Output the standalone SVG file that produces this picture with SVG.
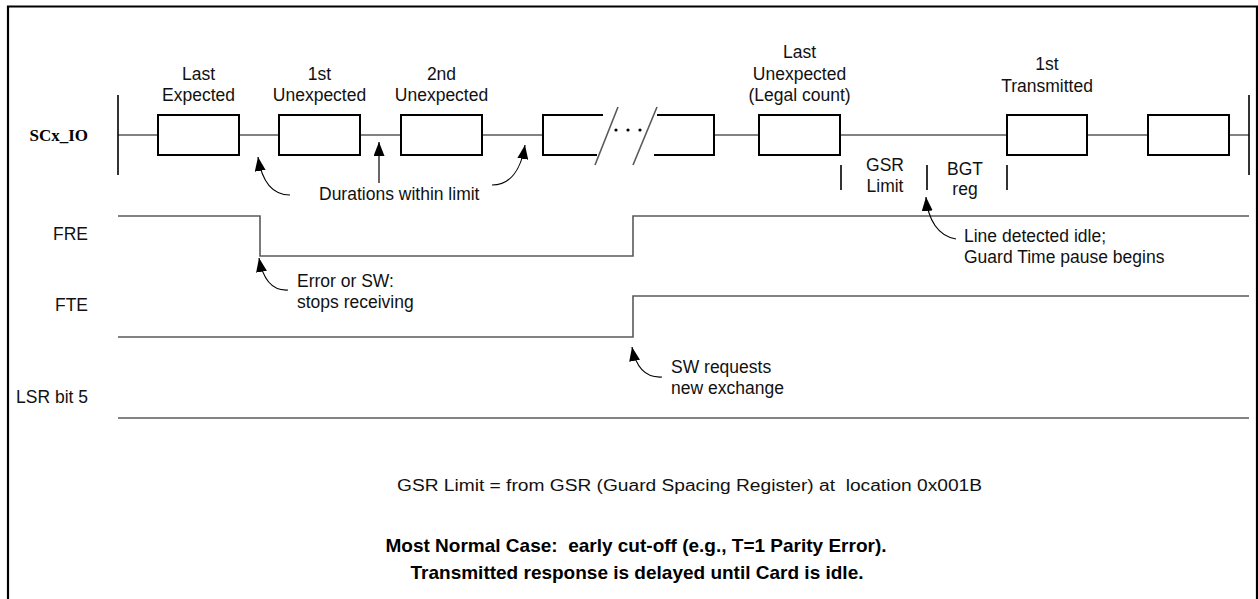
<svg xmlns="http://www.w3.org/2000/svg" width="1258" height="599" viewBox="0 0 1258 599">
<style>
.t{font-family:"Liberation Sans",Arial,sans-serif;font-size:17.5px;fill:#111}
.c{text-anchor:middle}
.r{text-anchor:end}
.b{font-family:"Liberation Sans",Arial,sans-serif;font-weight:bold;font-size:19px;fill:#000;text-anchor:middle;white-space:pre}
.sig{fill:none;stroke:#5a5a5a;stroke-width:1.6}
.box{fill:#fff;stroke:#000;stroke-width:2}
.open{fill:none;stroke:#000;stroke-width:2}
.bar{stroke:#000;stroke-width:1.6}
.arr{fill:none;stroke:#000;stroke-width:1.2}
</style>
<defs>
<marker id="ah" markerUnits="userSpaceOnUse" markerWidth="15" markerHeight="11" refX="14" refY="5.5" orient="auto">
<path d="M0,0 L14,5.5 L0,11 z" fill="#000"/>
</marker>
</defs>
<rect width="1258" height="599" fill="#fff"/>
<path d="M8,599 V6.5 H1257 V599" fill="none" stroke="#000" stroke-width="2.2"/>

<g id="signal-labels">
<text x="88" y="141" style="font-family:'Liberation Serif','Times New Roman',serif;font-weight:bold;font-size:17px;text-anchor:end">SCx_IO</text>
<text class="t r" x="88" y="240">FRE</text>
<text class="t r" x="88" y="311">FTE</text>
<text class="t r" x="88" y="403">LSR bit 5</text>
</g>

<g id="connectors">
<path class="sig" d="M118,135 H158 M239,135 H279 M360,135 H401 M482,135 H543 M714,135 H759 M840,135 H1007 M1087,135 H1148 M1229,135 H1249"/>
<line class="bar" x1="118" y1="95" x2="118" y2="175"/>
<line class="bar" x1="1249" y1="95" x2="1249" y2="175"/>
<path class="bar" d="M841,165 V190 M927,165 V190 M1007,165 V190" fill="none"/>
<path class="sig" d="M118,216 H260 V256 H633 V216 H1249"/>
<path class="sig" d="M118,337 H633 V296 H1249"/>
<path class="sig" d="M118,418 H1249"/>
<path class="arr" marker-end="url(#ah)" d="M290,195 C272,195 262,182 258,157"/>
<path class="arr" marker-end="url(#ah)" d="M379,183 L379,142"/>
<path class="arr" marker-end="url(#ah)" d="M492,185 C510,185 521,170 525,145"/>
<path class="arr" marker-end="url(#ah)" d="M288,290 C272,291 263,280 259,258"/>
<path class="arr" marker-end="url(#ah)" d="M662,377 C646,378 636,368 632,347"/>
<path class="arr" marker-end="url(#ah)" d="M956,239 C938,236 928,220 926,197"/>
</g>

<g id="box-last-expected">
<rect class="box" x="158" y="115" width="81" height="40"/>
<text class="t c" x="198.5" y="80">Last</text>
<text class="t c" x="198.5" y="101">Expected</text>
</g>
<g id="box-1st-unexpected">
<rect class="box" x="279" y="115" width="81" height="40"/>
<text class="t c" x="319.5" y="80">1st</text>
<text class="t c" x="319.5" y="101">Unexpected</text>
</g>
<g id="box-2nd-unexpected">
<rect class="box" x="401" y="115" width="81" height="40"/>
<text class="t c" x="441.5" y="80">2nd</text>
<text class="t c" x="441.5" y="101">Unexpected</text>
</g>
<g id="box-broken">
<path class="open" d="M603,115 H543 V155 H597"/>
<path class="open" d="M657,115 H714 V155 H654"/>
<path class="sig" d="M618,107 L595,165 M657,107 L633,165" stroke="#000"/>
<circle cx="616" cy="130" r="1.6" fill="#000"/>
<circle cx="628" cy="130" r="1.6" fill="#000"/>
<circle cx="640" cy="130" r="1.6" fill="#000"/>
</g>
<g id="box-last-unexpected">
<rect class="box" x="759" y="115" width="81" height="40"/>
<text class="t c" x="799.5" y="58">Last</text>
<text class="t c" x="799.5" y="80">Unexpected</text>
<text class="t c" x="799.5" y="101">(Legal count)</text>
</g>
<g id="box-1st-transmitted">
<rect class="box" x="1007" y="115" width="80" height="40"/>
<text class="t c" x="1047" y="70">1st</text>
<text class="t c" x="1047" y="92">Transmitted</text>
</g>
<g id="box-next">
<rect class="box" x="1148" y="115" width="81" height="40"/>
</g>

<g id="annotations">
<text class="t" x="319" y="200">Durations within limit</text>
<text class="t c" x="885" y="171">GSR</text>
<text class="t c" x="885" y="192">Limit</text>
<text class="t c" x="965" y="175">BGT</text>
<text class="t c" x="965" y="195">reg</text>
<text class="t" x="964" y="242">Line detected idle;</text>
<text class="t" x="964" y="263">Guard Time pause begins</text>
<text class="t" x="297" y="287">Error or SW:</text>
<text class="t" x="297" y="308">stops receiving</text>
<text class="t" x="671" y="373">SW requests</text>
<text class="t" x="671" y="394">new exchange</text>
<text class="t" x="397" y="491" textLength="585" lengthAdjust="spacingAndGlyphs" style="font-size:16px;white-space:pre">GSR Limit = from GSR (Guard Spacing Register) at  location 0x001B</text>
<text class="b" x="636" y="552">Most Normal Case:  early cut-off (e.g., T=1 Parity Error).</text>
<text class="b" x="637" y="579">Transmitted response is delayed until Card is idle.</text>
</g>
</svg>
